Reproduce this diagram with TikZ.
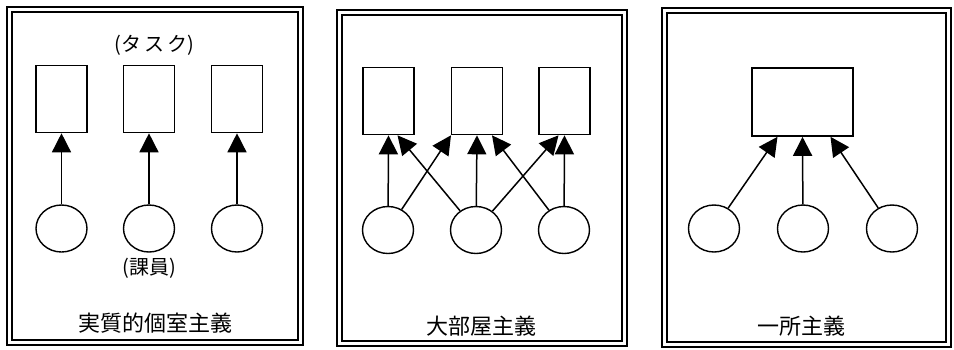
\documentclass[tikz,border=0pt]{standalone}
\usepackage{fontspec}
\newfontfamily\jp{Noto Sans CJK JP}
\usetikzlibrary{arrows.meta,shapes.geometric}
\begin{document}
\begin{tikzpicture}[x=1pt,y=-1pt,
  outerframe/.style={line width=2.6pt},
  innerframe/.style={line width=1.1pt},
  task/.style={draw,line width=1.6pt,minimum width=51pt,minimum height=67pt,inner sep=0pt},
  member/.style={draw,ellipse,line width=1.4pt,minimum width=51pt,minimum height=47pt,inner sep=0pt},
  assign/.style={line width=1.5pt,-{Triangle[width=19pt,length=19pt]}},
  label/.style={font=\jp\fontsize{22}{24}\selectfont,inner sep=0pt},
  small/.style={font=\jp\fontsize{20}{22}\selectfont,inner sep=0pt}]
\useasboundingbox (0,0) rectangle (954,349);

% double-lined frames of the three panels
\draw[outerframe] (7,7) rectangle (303,345);
\draw[innerframe] (12,12) rectangle (298,340);
\draw[outerframe] (337,10) rectangle (627,346);
\draw[innerframe] (342,15) rectangle (622,341);
\draw[outerframe] (662,8) rectangle (951,347);
\draw[innerframe] (667,13) rectangle (946,342);

% panel 1: one member per task
\node[task] (a1) at (61.5,99) {};
\node[task] (a2) at (149,99) {};
\node[task] (a3) at (237,99) {};
\node[member] (p1) at (61.5,228.5) {};
\node[member] (p2) at (149,228.5) {};
\node[member] (p3) at (237,228.5) {};
\draw[assign] (p1) -- (a1);
\draw[assign] (p2) -- (a2);
\draw[assign] (p3) -- (a3);
\node[small] (tasklbl) at (154,45) {(タ\hspace{3pt}ス\hspace{3pt}ク)};
\node[small] (memberlbl) at (149,268) {(課員)};
\node[label] (t1) at (155,323) {実質的個室主義};

% panel 2: members share neighbouring tasks
\node[task] (b1) at (388.5,101) {};
\node[task] (b2) at (477,101) {};
\node[task] (b3) at (564.5,101) {};
\node[member] (q1) at (388,230) {};
\node[member] (q2) at (476,230) {};
\node[member] (q3) at (564,230) {};
\draw[assign] (q1) -- (b1.south);
\draw[assign] (q1) -- ([xshift=-26pt]b2.south);
\draw[assign] (q2) -- ([xshift=9pt]b1.south);
\draw[assign] (q2) -- (b2.south);
\draw[assign] (q2) -- ([xshift=-6pt]b3.south);
\draw[assign] (q3) -- ([xshift=15pt]b2.south);
\draw[assign] (q3) -- (b3.south);
\node[label] (t2) at (481,326) {大部屋主義};

% panel 3: all members on one task
\node[task,minimum width=101pt,minimum height=68pt] (c0) at (802.5,102) {};
\node[member] (r1) at (714,228.5) {};
\node[member] (r2) at (803,228.5) {};
\node[member] (r3) at (892,228.5) {};
\draw[assign] (r1) -- ([xshift=-25pt]c0.south);
\draw[assign] (r2) -- (c0.south);
\draw[assign] (r3) -- ([xshift=28pt]c0.south);
\node[label] (t3) at (801,326) {一所主義};
\end{tikzpicture}
\end{document}
